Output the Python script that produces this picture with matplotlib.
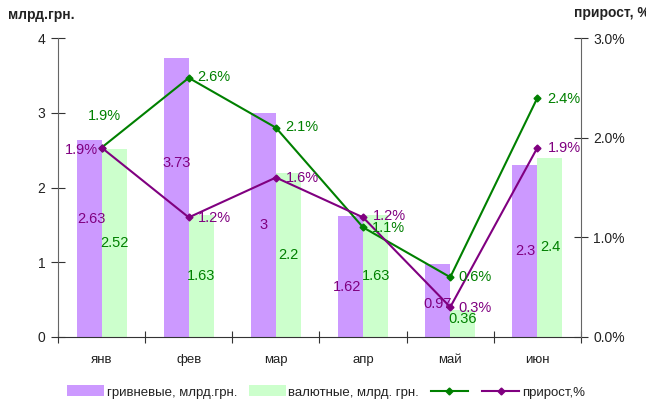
import matplotlib
matplotlib.use("Agg")
import matplotlib.pyplot as plt
import numpy as np
from matplotlib.lines import Line2D
from matplotlib.patches import Patch
from matplotlib.ticker import FuncFormatter, MultipleLocator

plt.rcParams['font.family'] = ['Liberation Sans', 'DejaVu Sans']

months = ['янв', 'фев', 'мар', 'апр', 'май', 'июн']
uah = [2.63, 3.73, 3.0, 1.62, 0.97, 2.3]
fx = [2.52, 1.63, 2.2, 1.63, 0.36, 2.4]
growth_green = [1.9, 2.6, 2.1, 1.1, 0.6, 2.4]
growth_purple = [1.9, 1.2, 1.6, 1.2, 0.3, 1.9]
uah_lbl = ['2.63', '3.73', '3', '1.62', '0.97', '2.3']
fx_lbl = ['2.52', '1.63', '2.2', '1.63', '0.36', '2.4']

C_UAH = '#CC99FF'
C_FX = '#CCFFCC'
C_G = '#008000'
C_P = '#800080'

fig = plt.figure(figsize=(6.46, 4.08), dpi=100)
ax = fig.add_axes([58/646, 71/408, 523/646, 299/408])
ax2 = ax.twinx()

x = np.arange(len(months))
w = 0.287
ax.bar(x - w/2, uah, w, color=C_UAH, zorder=2)
ax.bar(x + w/2, fx, w, color=C_FX, zorder=2)

ax.set_xlim(-0.5, len(months) - 0.5)
ax.set_ylim(0, 4)
ax2.set_ylim(0, 3)
ax.yaxis.set_major_locator(MultipleLocator(1))
ax2.yaxis.set_major_locator(MultipleLocator(1))
ax2.yaxis.set_major_formatter(FuncFormatter(lambda v, p: f'{v:.1f}%'))

ax.set_xticks(np.arange(-0.5, len(months), 1))
ax.set_xticklabels([])
ax.set_xticks(x, minor=True)
ax.set_xticklabels(months, minor=True)
ax.tick_params(axis='x', which='minor', length=0, pad=12, labelsize=9.5, colors='#222222')
ax.tick_params(axis='x', which='major', direction='inout', length=8, color='#333333')
ax.tick_params(axis='y', direction='inout', length=10, labelsize=10, color='#333333', labelcolor='#222222', pad=4)
ax2.tick_params(axis='y', direction='inout', length=10, labelsize=10, color='#333333', labelcolor='#222222', pad=4)

for a in (ax, ax2):
    a.spines['top'].set_visible(False)
ax.spines['right'].set_visible(False)
ax2.spines['left'].set_visible(False)
ax.spines['left'].set_color('#666666')
ax2.spines['right'].set_color('#666666')
ax.spines['bottom'].set_color('#333333')
ax2.spines['bottom'].set_visible(False)

ax2.plot(x, growth_green, color=C_G, lw=1.5, marker='D', ms=3.5, zorder=3)
ax2.plot(x, growth_purple, color=C_P, lw=1.5, marker='D', ms=3.5, zorder=3)

fs = 10.5
uah_off = [(2, 20), (0, 35), (0, 0), (-4, -11), (0, -3), (0, 0)]
fx_off = [(0, 0), (0, 0), (0, 0), (0, 0), (0, 5), (0, 0)]
for i in range(len(months)):
    ax.annotate(uah_lbl[i], (x[i] - w/2, uah[i] / 2), xytext=uah_off[i], textcoords='offset pixels',
                ha='center', va='center', color=C_P, fontsize=fs, zorder=4)
    ax.annotate(fx_lbl[i], (x[i] + w/2, fx[i] / 2), xytext=fx_off[i], textcoords='offset pixels',
                ha='center', va='center', color=C_G, fontsize=fs, zorder=4)

g_off = [(3, 32, 'center'), (8, 1, 'left'), (9, 1, 'left'), (9, -1, 'left'), (8, 0, 'left'), (10, -1, 'left')]
p_off = [(-4, -2, 'right'), (9, -1, 'left'), (10, 0, 'left'), (10, 1, 'left'), (8, -1, 'left'), (10, 0, 'left')]
for i in range(len(months)):
    dx, dy, ha = g_off[i]
    ax2.annotate(f'{growth_green[i]:.1f}%', (x[i], growth_green[i]), xytext=(dx, dy),
                 textcoords='offset pixels', ha=ha, va='center', color=C_G, fontsize=fs, zorder=5)
    dx, dy, ha = p_off[i]
    ax2.annotate(f'{growth_purple[i]:.1f}%', (x[i], growth_purple[i]), xytext=(dx, dy),
                 textcoords='offset pixels', ha=ha, va='center', color=C_P, fontsize=fs, zorder=5)

fig.text(8/646, 1 - 15/408, 'млрд.грн.', fontsize=10, fontweight='bold', ha='left', va='center', color='#222222')
fig.text(574/646, 1 - 13/408, 'прирост, %', fontsize=10, fontweight='bold', ha='left', va='center', color='#222222')

handles = [Patch(facecolor=C_UAH, edgecolor='none'),
           Patch(facecolor=C_FX, edgecolor='none'),
           Line2D([], [], color=C_G, lw=1.5, marker='D', ms=3.5),
           Line2D([], [], color=C_P, lw=1.5, marker='D', ms=3.5)]
labels = ['гривневые, млрд.грн.', 'валютные, млрд. грн.', '', 'прирост,%']
fig.legend(handles, labels, loc='center', bbox_to_anchor=(326/646, 1 - 392/408), ncol=4, frameon=False,
           fontsize=9.5, handlelength=2.8, handletextpad=0.2, columnspacing=0.9, handleheight=0.9,
           labelcolor='#222222')

fig.savefig('out.png', dpi=100)
